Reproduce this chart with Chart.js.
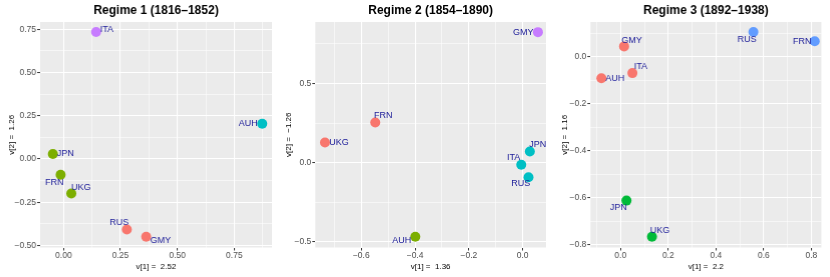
<!DOCTYPE html>
<html>
<head>
<meta charset="utf-8">
<script src="https://cdn.jsdelivr.net/npm/chart.js@4/dist/chart.umd.min.js"></script>
<style>
  html, body { margin: 0; padding: 0; background: #ffffff; }
  #wrap { position: relative; width: 830px; height: 277px; }
  .panel { position: absolute; top: 0; height: 277px; width: 276.67px; }
</style>
</head>
<body>
<div id="wrap">
  <div class="panel" style="left:0px"><canvas id="c1"></canvas></div>
  <div class="panel" style="left:276.67px"><canvas id="c2"></canvas></div>
  <div class="panel" style="left:553.33px"><canvas id="c3"></canvas></div>
</div>
<script>
// ---------------- DATA ----------------
// Regime 1 (1816–1852)
const r1Countries = ["ITA", "AUH", "JPN", "FRN", "UKG", "RUS", "GMY"];
const r1V1 = [0.143, 0.873, -0.047, -0.013, 0.034, 0.278, 0.363];
const r1V2 = [0.734, 0.204, 0.029, -0.091, -0.200, -0.408, -0.450];
const r1Cluster = [4, 3, 2, 2, 2, 1, 1];
const r1XTicks = [0, 0.25, 0.5, 0.75];
const r1YTicks = [-0.5, -0.25, 0, 0.25, 0.5, 0.75];

// Regime 2 (1854–1890)
const r2Countries = ["GMY", "FRN", "UKG", "JPN", "ITA", "RUS", "AUH"];
const r2V1 = [0.057, -0.548, -0.735, 0.027, -0.005, 0.022, -0.399];
const r2V2 = [0.825, 0.254, 0.128, 0.071, -0.013, -0.092, -0.468];
const r2Cluster = [4, 1, 1, 3, 3, 3, 2];
const r2XTicks = [-0.6, -0.4, -0.2, 0];
const r2YTicks = [-0.5, 0, 0.5];

// Regime 3 (1892–1938)
const r3Countries = ["RUS", "FRN", "GMY", "ITA", "AUH", "JPN", "UKG"];
const r3V1 = [0.557, 0.814, 0.015, 0.050, -0.080, 0.025, 0.132];
const r3V2 = [0.106, 0.067, 0.045, -0.069, -0.091, -0.613, -0.767];
const r3Cluster = [3, 3, 1, 1, 1, 2, 2];
const r3XTicks = [0, 0.2, 0.4, 0.6, 0.8];
const r3YTicks = [-0.8, -0.6, -0.4, -0.2, 0];

const titles = ["Regime 1 (1816–1852)", "Regime 2 (1854–1890)", "Regime 3 (1892–1938)"];
const xTitles = ["v[1] =  2.52", "v[1] =  1.36", "v[1] =  2.2"];
const yTitles = ["v[2] =  1.26", "v[2] =  \u22121.26", "v[2] =  1.16"];

// ---------------- STYLE ----------------
const pal4 = ["#F8766D", "#7CAE00", "#00BFC4", "#C77CFF"];
const pal3 = ["#F8766D", "#00BA38", "#619CFF"];
// label placement: [align, dx, dy] in px relative to point centre
const r1Place = [["left",4,-3],["right",-4.5,0],["left",4,0],["right",3,7.7],["left",0,-6.3],["right",2,-6.7],["left",4,3.3]];
const r2Place = [["right",-4.4,0],["left",-1.3,-6.7],["left",4.3,0],["left",-0.7,-6.7],["right",-1,-7],["right",1.7,6.7],["right",-4,3.3]];
const r3Place = [["right",3,7],["right",-3.3,0],["left",-2.6,-6],["left",1.6,-6.6],["left",4,0],["right",0.6,7.3],["left",-2,-6.6]];

const FONT = "'Liberation Sans', Arial, Helvetica, sans-serif";

const panelDefs = [
  { id: "c1", names: r1Countries, x: r1V1, y: r1V2, cl: r1Cluster, pal: pal4, place: r1Place,
    xt: r1XTicks, yt: r1YTicks, xr: [-0.103, 0.916], yr: [-0.512, 0.792], yw: 40, pr: 5.7 },
  { id: "c2", names: r2Countries, x: r2V1, y: r2V2, cl: r2Cluster, pal: pal4, place: r2Place,
    xt: r2XTicks, yt: r2YTicks, xr: [-0.771, 0.087], yr: [-0.536, 0.889], yw: 38.3, pr: 7.7 },
  { id: "c3", names: r3Countries, x: r3V1, y: r3V2, cl: r3Cluster, pal: pal3, place: r3Place,
    xt: r3XTicks, yt: r3YTicks, xr: [-0.126, 0.842], yr: [-0.813, 0.149], yw: 37.3, pr: 9.3 }
];

function withMinor(major, lo, hi) {
  const step = major[1] - major[0];
  const all = [];
  for (let i = -1; i < major.length; i++) {
    const base = i < 0 ? major[0] - step : major[i];
    if (i >= 0) all.push({ value: base, major: true });
    const m = base + step / 2;
    if (m > lo && m < hi) all.push({ value: m, major: false });
  }
  return all.filter(t => t.value >= lo && t.value <= hi).sort((a, b) => a.value - b.value);
}

function fmt(v, dec) {
  const s = Math.abs(v).toFixed(dec);
  return (v < -1e-9 ? "\u2212" : "") + s;
}

const bgPlugin = {
  id: "panelBg",
  beforeDraw(chart) {
    const { ctx, chartArea: a } = chart;
    ctx.save();
    ctx.fillStyle = "#EBEBEB";
    ctx.fillRect(a.left, a.top, a.right - a.left, a.bottom - a.top);
    // title centred over the panel
    ctx.font = "bold 12px " + FONT;
    ctx.fillStyle = "#000000";
    ctx.textAlign = "center";
    ctx.textBaseline = "middle";
    ctx.fillText(chart.options.panelTitle, (a.left + a.right) / 2, 10.5);
    ctx.restore();
  }
};

const labelPlugin = {
  id: "ptLabels",
  afterDatasetsDraw(chart) {
    const ctx = chart.ctx;
    const ds = chart.data.datasets[0];
    const meta = chart.getDatasetMeta(0);
    ctx.save();
    ctx.font = "9px " + FONT;
    ctx.fillStyle = "#20209A";
    ctx.textBaseline = "middle";
    meta.data.forEach((el, i) => {
      const p = ds.place[i];
      ctx.textAlign = p[0];
      ctx.fillText(ds.names[i], el.x + p[1], el.y + p[2]);
    });
    ctx.restore();
  }
};

function axisCfg(ticksArr, range, decimals, title, isX, yWidth) {
  const list = withMinor(ticksArr, range[0], range[1]);
  const majorSet = list.map(t => t.major);
  return {
    type: "linear",
    position: isX ? "bottom" : "left",
    min: range[0],
    max: range[1],
    afterBuildTicks(scale) {
      scale.ticks = list.map(t => ({ value: t.value }));
    },
    afterFit(scale) {
      if (!isX) scale.width = yWidth;
    },
    border: { display: false },
    grid: {
      color: "#FFFFFF",
      lineWidth: ctx => (majorSet[ctx.index] ? 1.1 : 0.55),
      drawTicks: true,
      tickLength: 3,
      tickColor: ctx => (majorSet[ctx.index] ? "#333333" : "rgba(0,0,0,0)"),
      tickWidth: 1
    },
    ticks: {
      autoSkip: false,
      maxRotation: 0,
      minRotation: 0,
      padding: 1,
      color: "#4D4D4D",
      font: { family: FONT, size: 8.5, lineHeight: 1.0 },
      callback: (v, i) => (majorSet[i] ? fmt(list[i].value, decimals) : "")
    },
    title: {
      display: true,
      text: title,
      color: "#000000",
      font: { family: FONT, size: 8, lineHeight: 1.0 },
      padding: isX ? { top: 2, bottom: 0 } : { top: 0, bottom: 1 }
    }
  };
}

const decimals = [[2, 2], [1, 1], [1, 1]];

panelDefs.forEach((p, k) => {
  const pts = p.x.map((xv, i) => ({ x: xv, y: p.y[i] }));
  new Chart(document.getElementById(p.id), {
    type: "scatter",
    data: {
      datasets: [{
        data: pts,
        names: p.names,
        place: p.place,
        pointRadius: 5,
        pointHoverRadius: 5,
        pointBorderWidth: 0,
        pointBackgroundColor: p.cl.map(c => p.pal[c - 1]),
        pointBorderColor: p.cl.map(c => p.pal[c - 1])
      }]
    },
    options: {
      panelTitle: titles[k],
      responsive: true,
      maintainAspectRatio: false,
      animation: false,
      events: [],
      layout: { padding: { left: 8, right: p.pr, top: 22, bottom: 6 } },
      plugins: {
        legend: { display: false },
        tooltip: { enabled: false },
        title: { display: false }
      },
      scales: {
        x: axisCfg(p.xt, p.xr, decimals[k][0], xTitles[k], true),
        y: axisCfg(p.yt, p.yr, decimals[k][1], yTitles[k], false, p.yw - 8)
      }
    },
    plugins: [bgPlugin, labelPlugin]
  });
});
</script>
</body>
</html>
